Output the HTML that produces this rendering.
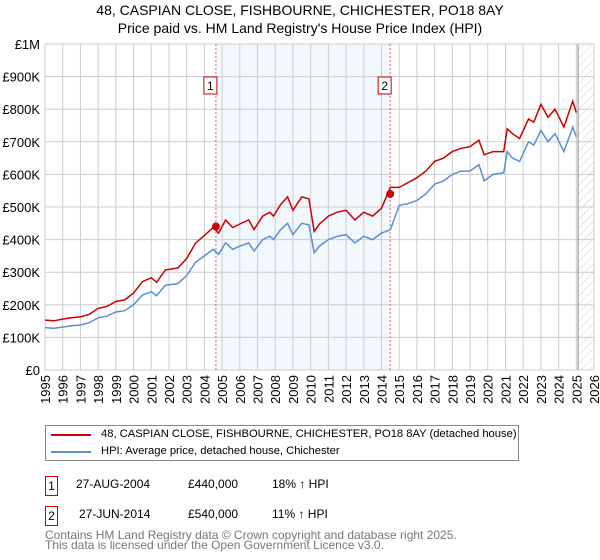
<!DOCTYPE html>
<html><head><meta charset="utf-8"><style>
body{margin:0;background:#fff;font-family:"Liberation Sans","DejaVu Sans",sans-serif;}
#wrap{position:relative;width:600px;height:560px;overflow:hidden}
.t{position:absolute;font-size:13px;color:#000;white-space:nowrap}
</style></head><body><div id="wrap">
<div class="t" style="left:0;width:600px;text-align:center;top:1px;font-size:14px;line-height:18px">48, CASPIAN CLOSE, FISHBOURNE, CHICHESTER, PO18 8AY<br>Price paid vs. HM Land Registry's House Price Index (HPI)</div>
<svg id="chart" width="600" height="420" style="position:absolute;left:0;top:0">
<defs><pattern id="hatch" width="6" height="6" patternUnits="userSpaceOnUse" patternTransform="rotate(45)"><line x1="0" y1="0" x2="0" y2="6" stroke="#ccc" stroke-width="1"/></pattern></defs>
</svg>
<div style="position:absolute;left:45px;top:425px;width:472px;height:34px;border:1px solid #888">
 <div style="position:absolute;left:5px;top:8px;width:40px;height:2px;background:#cc0000"></div>
 <div class="t" style="left:55px;top:2px;font-size:11.2px">48, CASPIAN CLOSE, FISHBOURNE, CHICHESTER, PO18 8AY (detached house)</div>
 <div style="position:absolute;left:5px;top:25px;width:40px;height:2px;background:#5b8fd0"></div>
 <div class="t" style="left:55px;top:19px;font-size:11.2px">HPI: Average price, detached house, Chichester</div>
</div>
<div class="t" style="left:45px;top:476px;width:11px;height:18px;border:1px solid #cc0000;text-align:center;font-size:12px;line-height:18px">1</div>
<div class="t" style="left:76px;top:477px;font-size:12px">27-AUG-2004</div>
<div class="t" style="left:188px;top:477px;font-size:12px">£440,000</div>
<div class="t" style="left:272px;top:477px;font-size:12px">18% ↑ HPI</div>
<div class="t" style="left:45px;top:506px;width:11px;height:18px;border:1px solid #cc0000;text-align:center;font-size:12px;line-height:18px">2</div>
<div class="t" style="left:79px;top:507px;font-size:12px">27-JUN-2014</div>
<div class="t" style="left:188px;top:507px;font-size:12px">£540,000</div>
<div class="t" style="left:272px;top:507px;font-size:12px">11% ↑ HPI</div>
<div class="t" style="left:45px;top:530px;font-size:12px;color:#777;line-height:10px">Contains HM Land Registry data © Crown copyright and database right 2025.<br>This data is licensed under the Open Government Licence v3.0.</div>
</div>
<script>
const years=[1995,1995.5,1996,1996.5,1997,1997.5,1998,1998.5,1999,1999.5,2000,2000.5,2001,2001.3,2001.8,2002.5,2003,2003.5,2004,2004.5,2004.8,2005.2,2005.6,2006,2006.5,2006.8,2007.3,2007.7,2007.9,2008.3,2008.7,2009,2009.5,2009.9,2010.2,2010.5,2011,2011.5,2012,2012.5,2013,2013.5,2014,2014.5,2015,2015.5,2016,2016.5,2017,2017.5,2018,2018.5,2019,2019.5,2019.8,2020.3,2020.9,2021.1,2021.4,2021.8,2022.3,2022.6,2023,2023.4,2023.8,2024.3,2024.8,2025];
const hpiValues=[130,128,132,136,138,145,160,165,178,182,200,230,240,228,260,265,290,330,350,370,355,390,370,380,390,365,400,410,400,430,450,415,450,445,360,380,400,410,415,390,410,400,420,430,505,510,520,540,570,580,600,610,610,630,580,600,605,670,650,640,700,690,735,700,725,670,745,715];
const propValues=[153,151,156,160,163,171,189,195,210,215,236,271,283,269,307,313,342,389,413,437,420,460,437,448,460,431,472,484,472,507,531,490,531,525,425,448,472,484,490,460,484,472,496,560,560,575,590,610,640,650,670,680,685,705,660,670,670,740,725,710,770,760,815,775,800,745,825,790];
const saleYears=[2004.65,2014.49];
const saleValues=[440,540];
const saleLabels=["1","2"];
const yTicks=[0,100,200,300,400,500,600,700,800,900,1000];
const yTickLabels=["£0","£100K","£200K","£300K","£400K","£500K","£600K","£700K","£800K","£900K","£1M"];
const xTicks=[1995,1996,1997,1998,1999,2000,2001,2002,2003,2004,2005,2006,2007,2008,2009,2010,2011,2012,2013,2014,2015,2016,2017,2018,2019,2020,2021,2022,2023,2024,2025,2026];
const X0=45,X1=594,Y0=370,Y1=44;
const xs=y=>X0+(y-1995)/(2026-1995)*(X1-X0);
const ys=v=>Y0-v/1000*(Y0-Y1);
const svg=document.getElementById('chart');const NS='http://www.w3.org/2000/svg';
function mk(tag,attrs){const e=document.createElementNS(NS,tag);for(const k in attrs)e.setAttribute(k,attrs[k]);svg.appendChild(e);return e;}
let e;
e=mk('rect',{x:xs(saleYears[0]),y:Y1,width:xs(saleYears[1])-xs(saleYears[0]),height:Y0-Y1,fill:'#eef3fd',opacity:0.7});


e=mk('rect',{x:xs(2025.1),y:Y1,width:X1-xs(2025.1),height:Y0-Y1,fill:'url(#hatch)'});


yTicks.forEach((v,i)=>{
 e=mk('line',{x1:X0,x2:X1,y1:ys(v),y2:ys(v),stroke:'#ccc'});
 
 
 e=mk('text',{x:X0-5,y:ys(v)+5,'text-anchor':'end','font-size':13});e.textContent=yTickLabels[i];
 
 
});
xTicks.forEach(y=>{
 e=mk('line',{x1:xs(y),x2:xs(y),y1:Y1,y2:Y0,stroke:'#ccc'});
 
 
 e=mk('text',{x:0,y:0,'text-anchor':'end','font-size':13,transform:`translate(${xs(y)+5},${Y0+5}) rotate(-90)`});e.textContent=y;
 
 
});
e=mk('line',{x1:xs(2025.1),x2:xs(2025.1),y1:Y1,y2:Y0,stroke:'#888'});


saleYears.forEach((y,i)=>{
 e=mk('line',{x1:xs(y),x2:xs(y),y1:Y1,y2:Y0,stroke:'#e06060','stroke-dasharray':'2,2'});
 
 
 e=mk('rect',{x:xs(y)-12,y:77,width:13,height:17,fill:'#fff',stroke:'#cc0000'});
 
 
 e=mk('text',{x:xs(y)-5.5,y:90,'text-anchor':'middle','font-size':12});e.textContent=saleLabels[i];
 
 
});
const pts=a=>years.map((y,i)=>xs(y).toFixed(1)+','+ys(a[i]).toFixed(1)).join(' ');
e=mk('polyline',{points:pts(hpiValues),fill:'none',stroke:'#5b8fd0','stroke-width':1.5});


e=mk('polyline',{points:pts(propValues),fill:'none',stroke:'#cc0000','stroke-width':1.5});


saleYears.forEach((y,i)=>{
 e=mk('circle',{cx:xs(y),cy:ys(saleValues[i]),r:4,fill:'#cc0000'});
 
 
});
</script></body></html>
